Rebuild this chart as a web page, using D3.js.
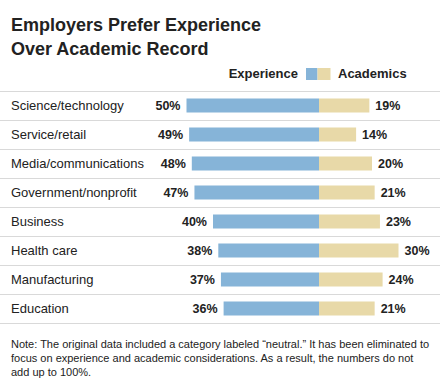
<!DOCTYPE html>
<html>
<head>
<meta charset="utf-8">
<script src="https://cdn.jsdelivr.net/npm/d3@7"></script>
<style>
  body { margin: 0; background: #fff; }
  svg { display: block; font-family: Arial, "Liberation Sans", Helvetica, sans-serif; }
</style>
</head>
<body>
<svg id="chart" width="440" height="389"></svg>
<script>
// data
var categories = ['Science/technology', 'Service/retail', 'Media/communications', 'Government/nonprofit',
	'Business', 'Health care', 'Manufacturing', 'Education'];
var experience = [50, 49, 48, 47, 40, 38, 37, 36];
var academics = [19, 14, 20, 21, 23, 30, 24, 21];
var titleLines = ['Employers Prefer Experience', 'Over Academic Record'];
var noteLines = ['Note: The original data included a category labeled \u201cneutral.\u201d It has been eliminated to',
	'focus on experience and academic considerations. As a result, the numbers do not',
	'add up to 100%.'];

var W = 440, H = 389;
var blue = '#86b4d8', tan = '#e8d9a8', ink = '#222', rule = '#d9d9d9';
var center = 319;

var svg = d3.select('#chart');

var x = d3.scaleLinear().domain([0, 50]).range([0, 132.5]);
var y = d3.scaleBand().domain(categories).range([91, 323]);

// title
svg.selectAll('text.title').data(titleLines).enter().append('text')
	.attr('class', 'title')
	.attr('x', 11)
	.attr('y', function(d, i) { return 31 + i * 24; })
	.attr('font-size', 18).attr('font-weight', 'bold').attr('fill', ink)
	.text(function(d) { return d; });

// legend
var lg = svg.append('g').attr('font-size', 13).attr('font-weight', 'bold').attr('fill', ink);
lg.append('text').attr('x', 298).attr('y', 78).attr('text-anchor', 'end').text('Experience');
lg.append('rect').attr('x', 306).attr('y', 68).attr('width', 11.5).attr('height', 12).attr('fill', blue);
lg.append('rect').attr('x', 317.5).attr('y', 68).attr('width', 13).attr('height', 12).attr('fill', tan);
lg.append('text').attr('x', 338).attr('y', 78).text('Academics');

// row rules
var rules = [y.range()[0]].concat(categories.map(function(c) { return y(c) + y.bandwidth(); }));
svg.selectAll('line.rule').data(rules).enter().append('line')
	.attr('x1', 0).attr('x2', W)
	.attr('y1', function(d) { return Math.round(d) + 0.5; })
	.attr('y2', function(d) { return Math.round(d) + 0.5; })
	.attr('stroke', rule).attr('stroke-width', 1);

var rows = svg.selectAll('g.row').data(categories).enter().append('g')
	.attr('class', 'row')
	.attr('transform', function(d) { return 'translate(0,' + (y(d) + y.bandwidth() / 2) + ')'; });

rows.append('text')
	.attr('x', 11).attr('y', 4.5)
	.attr('font-size', 13).attr('fill', ink)
	.text(function(d) { return d; });

rows.append('rect')
	.attr('x', function(d, i) { return center - x(experience[i]); })
	.attr('y', -7).attr('height', 14)
	.attr('width', function(d, i) { return x(experience[i]); })
	.attr('fill', blue);

rows.append('rect')
	.attr('x', center).attr('y', -7).attr('height', 14)
	.attr('width', function(d, i) { return x(academics[i]); })
	.attr('fill', tan);

rows.append('text')
	.attr('x', function(d, i) { return center - x(experience[i]) - 6; })
	.attr('y', 4.5).attr('text-anchor', 'end')
	.attr('font-size', 12.5).attr('font-weight', 'bold').attr('fill', ink)
	.text(function(d, i) { return experience[i] + '%'; });

rows.append('text')
	.attr('x', function(d, i) { return center + x(academics[i]) + 6; })
	.attr('y', 4.5)
	.attr('font-size', 12.5).attr('font-weight', 'bold').attr('fill', ink)
	.text(function(d, i) { return academics[i] + '%'; });

// note
svg.selectAll('text.note').data(noteLines).enter().append('text')
	.attr('class', 'note')
	.attr('x', 11)
	.attr('y', function(d, i) { return 348 + i * 14; })
	.attr('font-size', 11).attr('fill', ink)
	.text(function(d) { return d; });
</script>
</body>
</html>
